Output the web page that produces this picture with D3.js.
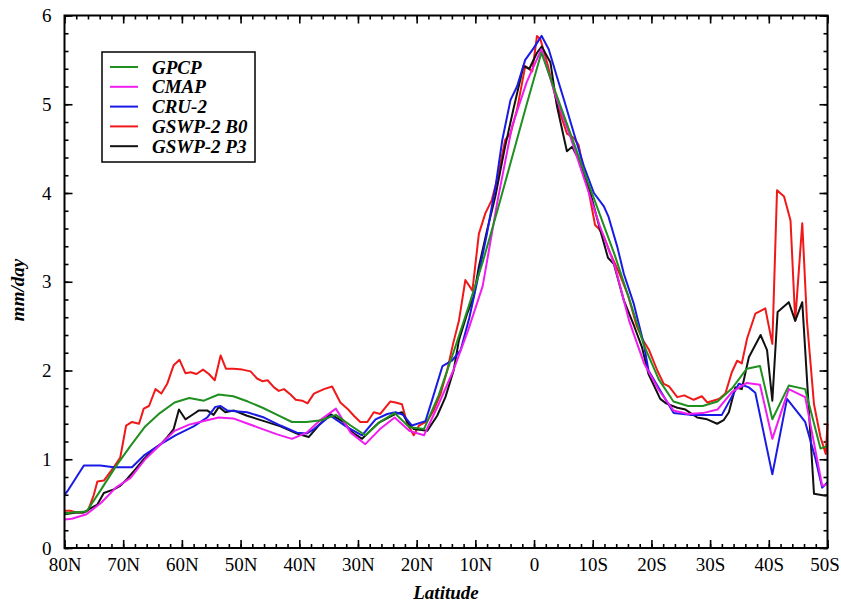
<!DOCTYPE html>
<html>
<head>
<meta charset="utf-8">
<script src="https://cdn.jsdelivr.net/npm/d3@7"></script>
<style>
  html, body { margin: 0; padding: 0; background: #fff; }
  svg { display: block; }
  text { font-family: "Liberation Serif", "Times New Roman", serif; fill: #000; }
</style>
</head>
<body>
<svg id="chart" width="841" height="603"></svg>
<script>
// ---------------- DATA ----------------
const seriesNames = ["GPCP", "CMAP", "CRU-2", "GSWP-2 B0", "GSWP-2 P3"];

const gpcpLat = [80,78.75,76.25,73.75,71.25,68.75,66.25,63.75,61.25,58.75,56.25,53.75,51.25,48.75,46.25,43.75,41.25,38.75,36.25,33.75,31.25,28.75,26.25,23.75,21.25,18.75,16.25,13.75,11.25,8.75,6.25,3.75,1.25,-1.25,-3.75,-6.25,-8.75,-11.25,-13.75,-16.25,-18.75,-21.25,-23.75,-26.25,-28.75,-31.25,-33.75,-36.25,-38.5,-40.6,-43.4,-46.2,-48.8,-50];
const gpcpVal = [0.39,0.40,0.41,0.66,0.92,1.15,1.37,1.52,1.64,1.69,1.66,1.73,1.71,1.65,1.58,1.50,1.42,1.42,1.44,1.50,1.38,1.27,1.42,1.52,1.36,1.34,1.72,2.2,2.7,3.22,3.8,4.4,5.0,5.58,5.12,4.66,4.2,3.75,3.3,2.8,2.28,1.9,1.65,1.6,1.6,1.65,1.8,2.02,2.05,1.45,1.83,1.79,1.12,1.15];

const cmapLat = [80,78.75,76.25,73.75,71.25,68.75,66.25,63.75,61.25,58.75,56.25,53.75,51.25,48.75,46.25,43.75,41.25,38.75,36.25,33.75,31.25,28.75,26.25,23.75,21.25,18.75,16.25,13.75,11.25,8.75,6.25,3.75,1.25,-1.25,-3.75,-6.25,-8.75,-11.25,-13.75,-16.25,-18.75,-21.25,-23.75,-26.25,-28.75,-31.25,-33.75,-36.25,-38.5,-40.6,-43.4,-46.2,-49.1,-50];
const cmapVal = [0.32,0.33,0.38,0.51,0.68,0.79,1.0,1.16,1.32,1.39,1.43,1.47,1.46,1.40,1.34,1.28,1.23,1.30,1.45,1.57,1.30,1.17,1.34,1.47,1.32,1.27,1.62,2.0,2.45,2.95,3.9,4.75,5.25,5.62,5.08,4.62,4.12,3.62,3.18,2.55,2.08,1.78,1.55,1.51,1.52,1.56,1.76,1.86,1.84,1.23,1.79,1.70,0.70,0.72];

const cruLat = [80,79.5,76.7,73.9,71.6,68.5,66.5,63.6,61.1,58,55.7,54.3,53.4,52.3,48.9,46,43.2,40.4,38.7,37.5,34.7,31.8,29.3,27,25,23.6,22.3,20.8,18.5,17.4,15.6,14,12.5,11,9.7,8,6.5,5.4,4,2.9,1.5,0.1,-1.3,-2.5,-3.9,-5.1,-6.8,-8.5,-10.2,-11.9,-12.7,-14.2,-15.3,-17,-18.7,-19.5,-21.8,-23.8,-26.6,-32,-34.9,-36.6,-37.7,-40.6,-43.1,-46.2,-47.9,-49.1,-50];
const cruVal = [0.60,0.64,0.93,0.93,0.91,0.91,1.04,1.17,1.27,1.37,1.47,1.59,1.60,1.55,1.53,1.47,1.38,1.30,1.29,1.34,1.49,1.36,1.27,1.45,1.51,1.53,1.50,1.38,1.43,1.66,2.05,2.11,2.23,2.6,3.0,3.55,4.1,4.6,5.05,5.2,5.5,5.63,5.77,5.62,5.31,5.05,4.67,4.3,4.0,3.85,3.73,3.39,3.09,2.75,2.3,2.0,1.74,1.52,1.50,1.50,1.85,1.81,1.75,0.83,1.68,1.42,1.02,0.68,0.74];

const b0Lat = [80,79,78,77,76,75,74.4,73.3,72.5,71.5,70.5,69.5,68.5,67.3,66.5,65.6,64.5,63.5,62.5,61.4,60.4,59.4,58.5,57.5,56.4,55.4,54.4,53.4,52.5,51.2,49.7,48.3,47.2,46.3,45.4,44.3,43.5,42.6,41.5,40.6,39.5,38.6,37.5,35.8,34.4,33,31.8,30.7,29.6,28.4,27.3,26.2,24.5,23.6,22.5,21.6,20.5,19.6,18.2,17.1,15.9,14.8,13.8,12.8,11.7,10.5,9.4,8.3,7.2,6.3,4.9,4,2.9,1.5,0.3,-0.5,-1.1,-2.3,-3.9,-5.6,-6.8,-7.6,-8.2,-9,-10.4,-11,-11.9,-13,-14.5,-16,-17.5,-18.5,-19.6,-21,-22.1,-23,-24.4,-25.6,-27.2,-28.6,-29.5,-30.5,-31.5,-32.6,-33.7,-34.6,-35.4,-36.3,-37.7,-39.4,-40.6,-41.4,-42.6,-43.7,-44.5,-45.7,-46.5,-47.7,-48.8,-49.7,-50];
const b0Val = [0.42,0.42,0.40,0.40,0.42,0.60,0.75,0.76,0.83,0.92,1.02,1.38,1.42,1.40,1.57,1.60,1.79,1.74,1.85,2.06,2.12,1.97,1.98,1.96,2.01,1.96,1.89,2.17,2.02,2.02,2.01,1.99,1.91,1.88,1.89,1.81,1.77,1.79,1.73,1.67,1.66,1.63,1.74,1.79,1.82,1.64,1.57,1.49,1.42,1.42,1.53,1.51,1.65,1.64,1.62,1.40,1.27,1.38,1.43,1.55,1.74,2.0,2.3,2.56,3.02,2.90,3.54,3.77,3.92,4.15,4.60,4.67,4.94,5.43,5.37,5.77,5.73,5.45,5.01,4.67,4.62,4.54,4.34,4.13,3.64,3.60,3.51,3.32,3.1,2.85,2.5,2.35,2.23,2.0,1.85,1.82,1.70,1.72,1.67,1.71,1.64,1.66,1.68,1.74,1.98,2.11,2.08,2.36,2.64,2.70,2.30,4.03,3.96,3.69,2.56,3.66,2.56,1.62,1.25,1.06,1.40];

const p3Lat = [80,78,76.7,75.5,74.4,73.3,71.6,70.5,69.3,68,66.5,65,63.6,62.5,61.4,60.5,59.4,58,57.1,55.7,54.6,53.7,52.6,51.2,48.9,46,43.2,40.4,38.4,36.7,34.7,32.5,30.9,29.3,26.5,23.6,22.5,21.6,20.5,18.2,16.5,15.1,13.7,12.8,11.4,10.3,9.4,8,6.6,5,3.5,1.8,0.8,-0.5,-1.3,-2.8,-3.9,-5.6,-6.5,-7.9,-9.6,-11.2,-12.6,-13.6,-15.3,-17,-18.4,-19.5,-21.5,-22.5,-24.4,-25.8,-27.8,-29.5,-31.2,-32.3,-33.2,-34.3,-35.4,-36.6,-38.6,-39.7,-40.6,-41.5,-43.4,-44.5,-45.7,-47.7,-49.7,-50];
const p3Val = [0.38,0.40,0.40,0.45,0.49,0.62,0.66,0.70,0.78,0.88,1.0,1.1,1.17,1.25,1.34,1.56,1.45,1.51,1.55,1.55,1.50,1.59,1.53,1.55,1.49,1.43,1.37,1.29,1.25,1.38,1.51,1.42,1.30,1.23,1.41,1.51,1.53,1.42,1.34,1.32,1.49,1.70,2.0,2.34,2.64,2.83,3.17,3.58,3.96,4.5,4.95,5.43,5.40,5.58,5.65,5.47,4.98,4.47,4.52,4.34,4.0,3.60,3.27,3.2,2.79,2.51,2.26,1.96,1.68,1.63,1.58,1.56,1.47,1.45,1.40,1.44,1.53,1.81,1.79,2.15,2.40,2.23,1.66,2.66,2.77,2.56,2.77,0.61,0.59,0.60];

const xMajorTicks = [80,70,60,50,40,30,20,10,0,-10,-20,-30,-40,-50];
const yMajorTicks = [0,1,2,3,4,5,6];

// ---------------- LAYOUT ----------------
const svg = d3.select("#chart");
const L = 64.5, R = 827.5, T = 15.5, B = 548;
const x = d3.scaleLinear().domain([80, -50]).range([L, R]);
const y = d3.scaleLinear().domain([0, 6]).range([B, T]);

const series = [
  { name: "GSWP-2 B0", lat: b0Lat, val: b0Val, color: "#f01818" },
  { name: "GSWP-2 P3", lat: p3Lat, val: p3Val, color: "#111111" },
  { name: "CRU-2", lat: cruLat, val: cruVal, color: "#1a1ae6" },
  { name: "CMAP", lat: cmapLat, val: cmapVal, color: "#f01cf0" },
  { name: "GPCP", lat: gpcpLat, val: gpcpVal, color: "#1f8f1f" }
];
const colorOf = Object.fromEntries(series.map(s => [s.name, s.color]));

const xMinor = d3.range(80, -50.1, -2);
const yMinor = d3.range(0, 6.01, 0.2).map(v => +v.toFixed(1));
const fmtLat = d => d > 0 ? d + "N" : (d < 0 ? (-d) + "S" : "0");

function styleAxis(g) {
  g.select(".domain").remove();
  g.selectAll(".tick line").attr("stroke", "#000").attr("stroke-width", 1.6);
  g.selectAll(".tick text").style("font-family", '"Liberation Serif", serif').style("font-size", "19px").attr("fill", "#000");
}

// minor ticks
svg.append("g").attr("transform", `translate(0,${B})`)
  .call(d3.axisBottom(x).tickValues(xMinor).tickSize(-4).tickFormat(""))
  .call(styleAxis);
svg.append("g").attr("transform", `translate(0,${T})`)
  .call(d3.axisTop(x).tickValues(xMinor).tickSize(-4).tickFormat(""))
  .call(styleAxis);
svg.append("g").attr("transform", `translate(${L},0)`)
  .call(d3.axisLeft(y).tickValues(yMinor).tickSize(-4).tickFormat(""))
  .call(styleAxis);
svg.append("g").attr("transform", `translate(${R},0)`)
  .call(d3.axisRight(y).tickValues(yMinor).tickSize(-4).tickFormat(""))
  .call(styleAxis);

// major ticks
const xAxisG = svg.append("g").attr("transform", `translate(0,${B})`)
  .call(d3.axisBottom(x).tickValues(xMajorTicks).tickSize(-8).tickPadding(10).tickFormat(fmtLat))
  .call(styleAxis);
// keep the last label ("50S") inside the window
xAxisG.selectAll(".tick text").filter(d => d === -50).attr("x", -3);
svg.append("g").attr("transform", `translate(0,${T})`)
  .call(d3.axisTop(x).tickValues(xMajorTicks).tickSize(-8).tickFormat(""))
  .call(styleAxis);
svg.append("g").attr("transform", `translate(${L},0)`)
  .call(d3.axisLeft(y).tickValues(yMajorTicks).tickSize(-8).tickPadding(13).tickFormat(d3.format("d")))
  .call(styleAxis);
svg.append("g").attr("transform", `translate(${R},0)`)
  .call(d3.axisRight(y).tickValues(yMajorTicks).tickSize(-8).tickFormat(""))
  .call(styleAxis);

// lines
const line = d3.line().x(d => x(d[0])).y(d => y(d[1]));
const plot = svg.append("g");
series.forEach(s => {
  const pts = s.lat.map((la, i) => [la, s.val[i]]);
  plot.append("path").datum(pts)
    .attr("fill", "none").attr("stroke", s.color)
    .attr("stroke-width", 2).attr("stroke-linejoin", "round")
    .attr("d", line);
});

// frame
svg.append("rect").attr("x", L).attr("y", T).attr("width", R - L).attr("height", B - T)
  .attr("fill", "none").attr("stroke", "#000").attr("stroke-width", 2);

// legend
const lg = svg.append("g");
lg.append("rect").attr("x", 102).attr("y", 52).attr("width", 153).attr("height", 110)
  .attr("fill", "#fff").attr("stroke", "#000").attr("stroke-width", 1.5);
seriesNames.forEach((n, i) => {
  const yy = 67 + i * 19.8;
  lg.append("line").attr("x1", 110).attr("x2", 138).attr("y1", yy).attr("y2", yy)
    .attr("stroke", colorOf[n]).attr("stroke-width", 2);
  lg.append("text").attr("x", 152).attr("y", yy).attr("dy", "0.35em")
    .style("font-size", "19px").style("font-weight", "bold").style("font-style", "italic")
    .text(n);
});

// axis titles
svg.append("text").attr("x", 446).attr("y", 599)
  .attr("text-anchor", "middle").style("font-size", "19px")
  .style("font-weight", "bold").style("font-style", "italic").text("Latitude");
svg.append("text").attr("transform", "translate(24,290) rotate(-90)")
  .attr("text-anchor", "middle").style("font-size", "19px")
  .style("font-weight", "bold").style("font-style", "italic").text("mm/day");
</script>
</body>
</html>
